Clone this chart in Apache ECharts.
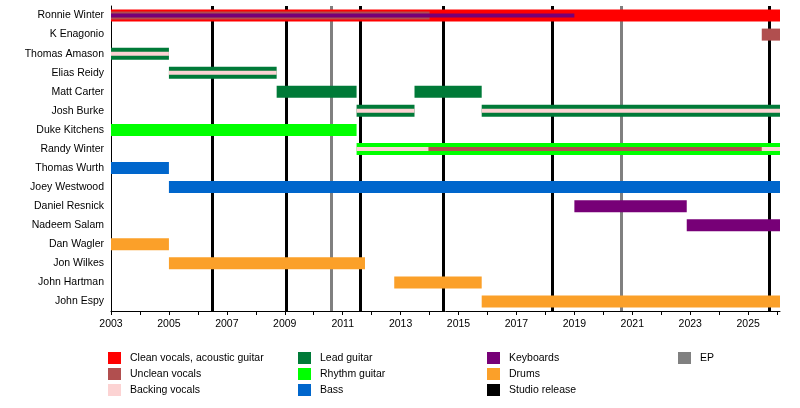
<!DOCTYPE html>
<html>
<head>
<meta charset="utf-8">
<title>Band timeline</title>
<script src="https://cdn.jsdelivr.net/npm/echarts@6/dist/echarts.min.js"></script>
<style>
  html, body { margin: 0; padding: 0; background: #fff; }
  #chart { width: 800px; height: 408px; }
</style>
</head>
<body>
<div id="chart"></div>
<script>
(function () {

  ///////////////////////////////////////////////////////////////////
  // data: members and their periods [member, from, to, rank]
  // rank 1 = main role, 2 = second role, 3 = third role
  ///////////////////////////////////////////////////////////////////
  var members = [
    'Ronnie Winter', 'K Enagonio', 'Thomas Amason', 'Elias Reidy', 'Matt Carter',
    'Josh Burke', 'Duke Kitchens', 'Randy Winter', 'Thomas Wurth', 'Joey Westwood',
    'Daniel Resnick', 'Nadeem Salam', 'Dan Wagler', 'Jon Wilkes', 'John Hartman', 'John Espy'
  ];

  var yearStart = 2003;
  var yearEnd = 2026.1;

  var cleanVocals = [
    ['Ronnie Winter', 2003, 2026.1, 1]
  ];
  var leadGuitar = [
    ['Thomas Amason', 2003, 2005, 1],
    ['Elias Reidy', 2005, 2008.72, 1],
    ['Matt Carter', 2008.72, 2011.48, 1],
    ['Matt Carter', 2013.48, 2015.8, 1],
    ['Josh Burke', 2011.48, 2013.48, 1],
    ['Josh Burke', 2015.8, 2026.1, 1]
  ];
  var rhythmGuitar = [
    ['Duke Kitchens', 2003, 2011.48, 1],
    ['Randy Winter', 2011.48, 2026.1, 1]
  ];
  var bass = [
    ['Thomas Wurth', 2003, 2005, 1],
    ['Joey Westwood', 2005, 2026.1, 1]
  ];
  var drums = [
    ['Dan Wagler', 2003, 2005, 1],
    ['Jon Wilkes', 2005, 2011.77, 1],
    ['John Hartman', 2012.78, 2015.8, 1],
    ['John Espy', 2015.8, 2026.1, 1]
  ];
  var keyboards = [
    ['Ronnie Winter', 2003, 2019, 3],
    ['Daniel Resnick', 2019, 2022.88, 1],
    ['Nadeem Salam', 2022.88, 2026.1, 1]
  ];
  var backingVocals = [
    ['Thomas Amason', 2003, 2005, 3],
    ['Elias Reidy', 2005, 2008.72, 3],
    ['Josh Burke', 2011.48, 2013.48, 3],
    ['Josh Burke', 2015.8, 2026.1, 3],
    ['Randy Winter', 2011.48, 2026.1, 3]
  ];
  var uncleanVocals = [
    ['Ronnie Winter', 2003, 2014, 2],
    ['Randy Winter', 2013.96, 2025.47, 3],
    ['K Enagonio', 2025.47, 2026.1, 1]
  ];

  var studioReleases = [2006.5, 2009.05, 2011.6, 2014.48, 2018.22, 2025.74];
  var eps = [2010.61, 2020.62];

  ///////////////////////////////////////////////////////////////////
  // drawing
  ///////////////////////////////////////////////////////////////////
  var barHeights = { 1: 12, 2: 8, 3: 4 };
  var font = 'Liberation Sans, Arial, sans-serif';

  function renderBar(params, api) {
    var row = api.value(0);
    var p0 = api.coord([api.value(1), row]);
    var p1 = api.coord([api.value(2), row]);
    var h = barHeights[api.value(3)];
    return {
      type: 'rect',
      shape: { x: p0[0], y: p0[1] - h / 2, width: p1[0] - p0[0], height: h },
      style: { fill: api.visual('color') }
    };
  }

  // one custom series per rank, so thinner roles are drawn over the main ones
  function roleSeries(name, color, list) {
    var out = [];
    [1, 2, 3].forEach(function (rank) {
      var rows = list.filter(function (d) { return d[3] === rank; });
      if (!rows.length) {
        return;
      }
      out.push({
        name: name,
        type: 'custom',
        renderItem: renderBar,
        color: color,
        itemStyle: { color: color },
        encode: { x: [1, 2], y: 0 },
        data: rows.map(function (d) {
          return [members.indexOf(d[0]), d[1], d[2], d[3]];
        }),
        silent: true,
        z: 4 + rank
      });
    });
    return out;
  }

  function releaseSeries(name, color, years) {
    return {
      name: name,
      type: 'line',
      data: [],
      color: color,
      itemStyle: { color: color },
      lineStyle: { color: color },
      z: 1,
      markLine: {
        silent: true,
        symbol: 'none',
        label: { show: false },
        lineStyle: { color: color, width: 3, type: 'solid' },
        data: years.map(function (y) { return { xAxis: y }; })
      }
    };
  }

  var series = [
    releaseSeries('Studio release', '#000000', studioReleases),
    releaseSeries('EP', '#808080', eps)
  ].concat(
    roleSeries('Clean vocals, acoustic guitar', '#ff0000', cleanVocals),
    roleSeries('Lead guitar', '#007a38', leadGuitar),
    roleSeries('Rhythm guitar', '#00ff00', rhythmGuitar),
    roleSeries('Bass', '#0066cc', bass),
    roleSeries('Drums', '#fba029', drums),
    roleSeries('Keyboards', '#770077', keyboards),
    roleSeries('Backing vocals', '#fcd3d3', backingVocals),
    roleSeries('Unclean vocals', '#b14f4f', uncleanVocals)
  );

  function legendColumn(left, names) {
    return {
      orient: 'vertical',
      left: left,
      top: 352,
      padding: 0,
      icon: 'rect',
      itemWidth: 13,
      itemHeight: 12,
      itemGap: 4,
      selectedMode: false,
      textStyle: { color: '#000', fontSize: 10.5, fontFamily: font, padding: [0, 0, 0, 4] },
      data: names
    };
  }

  var option = {
    backgroundColor: '#fff',
    animation: false,
    grid: { left: 111, right: 20, top: 6, bottom: 97, containLabel: false },
    xAxis: {
      type: 'value',
      min: yearStart,
      max: yearEnd,
      interval: 1,
      splitLine: { show: false },
      axisLine: { show: true, onZero: false, lineStyle: { color: '#000', width: 1 } },
      axisTick: { show: true, length: 4, lineStyle: { color: '#000' } },
      axisLabel: {
        color: '#000',
        fontSize: 10.5,
        fontFamily: font,
        margin: 8,
        showMaxLabel: false,
        formatter: function (v) {
          return (Math.round(v) === v && v % 2 === 1) ? String(v) : '';
        }
      }
    },
    yAxis: {
      type: 'category',
      data: members,
      inverse: true,
      axisLine: { show: true, lineStyle: { color: '#000', width: 1 } },
      axisTick: { show: false },
      splitLine: { show: false },
      axisLabel: { color: '#000', fontSize: 10.5, fontFamily: font, margin: 7 }
    },
    legend: [
      legendColumn(108, ['Clean vocals, acoustic guitar', 'Unclean vocals', 'Backing vocals']),
      legendColumn(298, ['Lead guitar', 'Rhythm guitar', 'Bass']),
      legendColumn(487, ['Keyboards', 'Drums', 'Studio release']),
      legendColumn(678, ['EP'])
    ],
    series: series
  };

  var myChart = echarts.init(document.getElementById('chart'));
  myChart.setOption(option);
}());
</script>
</body>
</html>
